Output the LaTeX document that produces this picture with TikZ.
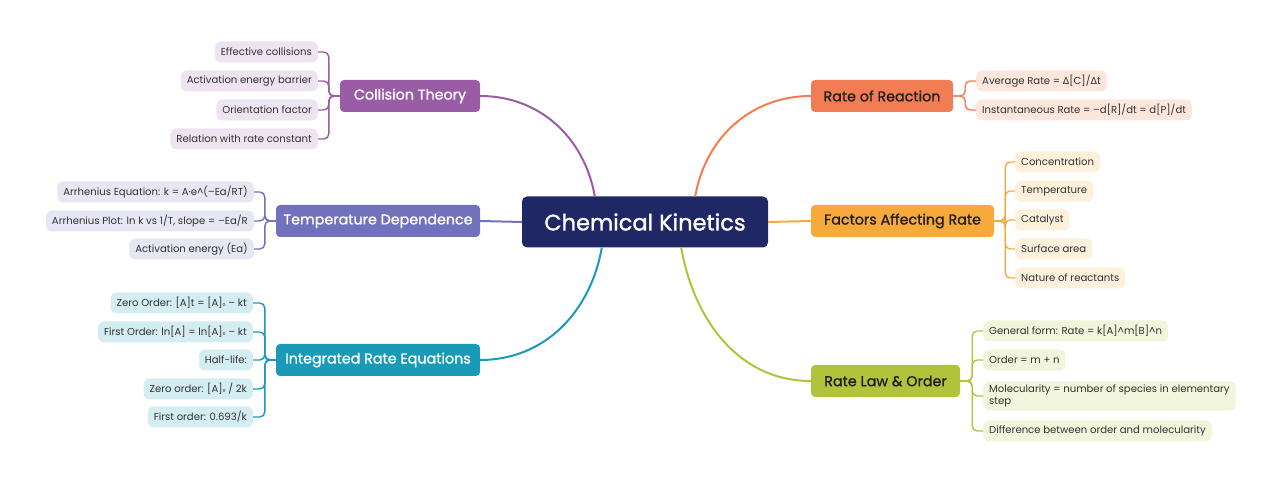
\documentclass[tikz,border=0pt]{standalone}
\usepackage{fontspec}
\setmainfont{Poppins}
\newfontfamily\symf{DejaVu Sans}
\font\centralf="Poppins:embolden=1.3" at 22.5pt
\font\topicf="Poppins:embolden=1.0" at 14.3pt
\usetikzlibrary{calc}
\definecolor{ckblue}{HTML}{1F2765}
\definecolor{ctcol}{HTML}{9B5CA6}
\definecolor{ctleaf}{HTML}{EEE4F1}
\definecolor{tdcol}{HTML}{7171BC}
\definecolor{tdleaf}{HTML}{E7E7F4}
\definecolor{ircol}{HTML}{1A9AB6}
\definecolor{irleaf}{HTML}{D4EDF3}
\definecolor{rrcol}{HTML}{F27D54}
\definecolor{rrleaf}{HTML}{FDE7DD}
\definecolor{facol}{HTML}{F6AA3C}
\definecolor{faleaf}{HTML}{FDF1DC}
\definecolor{rlcol}{HTML}{B1C33B}
\definecolor{rlleaf}{HTML}{F1F5DB}
\definecolor{leaftext}{HTML}{333333}
\definecolor{darktext}{HTML}{1E1E1E}
\newcommand{\sub}{{\symf\fontsize{7.5}{9}\selectfont ₀}}
\newcommand{\dlt}{{\symf\fontsize{9.5}{12}\selectfont Δ}}
\begin{document}
\begin{tikzpicture}[x=1pt,y=1pt,
  central/.style={fill=ckblue, text=white, rounded corners=5pt, minimum width=246pt,
    minimum height=51pt, inner sep=0pt, font=\centralf},
  topic/.style={rounded corners=4pt, minimum height=32pt, inner sep=0pt,
    font=\topicf},
  leaf/.style={rounded corners=6pt, minimum height=21pt, inner xsep=6pt, inner ysep=3pt,
    text=leaftext, font=\fontsize{10.1}{12}\selectfont},
  conn/.style={line width=2pt},
  brk/.style={line width=1.4pt, rounded corners=5pt},
]
\useasboundingbox (0,0) rectangle (1280,486);

% central
\node[central] (CK) at (645,264) {Chemical Kinetics};

% topics
\node[topic, fill=ctcol, text=white, minimum width=140pt] (CT) at (410,390) {Collision Theory};
\node[topic, fill=tdcol, text=white, minimum width=204pt] (TD) at (378,265) {Temperature Dependence};
\node[topic, fill=ircol, text=white, minimum width=204pt] (IR) at (378,126) {Integrated Rate Equations};
\node[topic, fill=rrcol, text=darktext, minimum width=142pt] (RR) at (882,390) {Rate of Reaction};
\node[topic, fill=facol, text=darktext, minimum width=183pt] (FA) at (902.5,265) {Factors Affecting Rate};
\node[topic, fill=rlcol, text=darktext, minimum width=149pt] (RL) at (885.5,105) {Rate Law \& Order};

% main connectors
\draw[conn, ctcol] (CT.east) to[out=0, in=100] ($(CK.north west)+(73,0)$);
\draw[conn, tdcol] (TD.east) -- (CK.west);
\draw[conn, ircol] (IR.east) to[out=0, in=-100] ($(CK.south west)+(80,0)$);
\draw[conn, rrcol] (RR.west) to[out=180, in=80] ($(CK.north east)+(-73,0)$);
\draw[conn, facol] (CK.east) -- (FA.west);
\draw[conn, rlcol] (RL.west) to[out=180, in=-80] ($(CK.south east)+(-87,0)$);

% Collision Theory leaves
\node[leaf, fill=ctleaf, anchor=east] (c1) at (318,434) {Effective collisions};
\node[leaf, fill=ctleaf, anchor=east] (c2) at (318,405) {Activation energy barrier};
\node[leaf, fill=ctleaf, anchor=east] (c3) at (318,376) {Orientation factor};
\node[leaf, fill=ctleaf, anchor=east] (c4) at (318,347) {Relation with rate constant};
\foreach \n in {c1,c2,c3,c4}
  \draw[brk, ctcol] (CT.west) -- ++(-11,0) |- (\n.east);

% Temperature Dependence leaves
\node[leaf, fill=tdleaf, anchor=east] (t1) at (254,294) {Arrhenius Equation: k = A·e\textasciicircum(–Ea/RT)};
\node[leaf, fill=tdleaf, anchor=east] (t2) at (254,265) {Arrhenius Plot: ln k vs 1/T, slope = –Ea/R};
\node[leaf, fill=tdleaf, anchor=east] (t3) at (254,237) {Activation energy (Ea)};
\foreach \n in {t1,t2,t3}
  \draw[brk, tdcol] (TD.west) -- ++(-11,0) |- (\n.east);

% Integrated Rate Equations leaves
\node[leaf, fill=irleaf, anchor=east] (i1) at (253,183) {Zero Order: [A]t = [A]\sub{} – kt};
\node[leaf, fill=irleaf, anchor=east] (i2) at (253,154) {First Order: ln[A] = ln[A]\sub{} – kt};
\node[leaf, fill=irleaf, anchor=east] (i3) at (253,126) {Half-life:};
\node[leaf, fill=irleaf, anchor=east] (i4) at (253,97) {Zero order: [A]\sub{} / 2k};
\node[leaf, fill=irleaf, anchor=east] (i5) at (253,69) {First order: 0.693/k};
\foreach \n in {i1,i2,i3,i4,i5}
  \draw[brk, ircol] (IR.west) -- ++(-11,0) |- (\n.east);

% Rate of Reaction leaves
\node[leaf, fill=rrleaf, anchor=west] (r1) at (976,405) {Average Rate = \dlt[C]/\dlt t};
\node[leaf, fill=rrleaf, anchor=west] (r2) at (976,376) {Instantaneous Rate = –d[R]/dt = d[P]/dt};
\foreach \n in {r1,r2}
  \draw[brk, rrcol] (RR.east) -- ++(12,0) |- (\n.west);

% Factors leaves
\node[leaf, fill=faleaf, anchor=west] (f1) at (1015,324) {Concentration};
\node[leaf, fill=faleaf, anchor=west] (f2) at (1015,295) {Temperature};
\node[leaf, fill=faleaf, anchor=west] (f3) at (1015,266) {Catalyst};
\node[leaf, fill=faleaf, anchor=west] (f4) at (1015,237) {Surface area};
\node[leaf, fill=faleaf, anchor=west] (f5) at (1015,208) {Nature of reactants};
\foreach \n in {f1,f2,f3,f4,f5}
  \draw[brk, facol] (FA.east) -- ++(11,0) |- (\n.west);

% Rate Law leaves
\node[leaf, fill=rlleaf, anchor=west] (l1) at (983,155) {General form: Rate = k[A]\textasciicircum m[B]\textasciicircum n};
\node[leaf, fill=rlleaf, anchor=west] (l2) at (983,126) {Order = m + n};
\node[leaf, fill=rlleaf, anchor=west, align=left, font=\fontsize{10.1}{12.5}\selectfont] (l3) at (983,90) {Molecularity = number of species in elementary\\step};
\node[leaf, fill=rlleaf, anchor=west] (l4) at (983,55) {Difference between order and molecularity};
\foreach \n in {l1,l2,l3,l4}
  \draw[brk, rlcol] (RL.east) -- ++(12,0) |- (\n.west);
\end{tikzpicture}
\end{document}
